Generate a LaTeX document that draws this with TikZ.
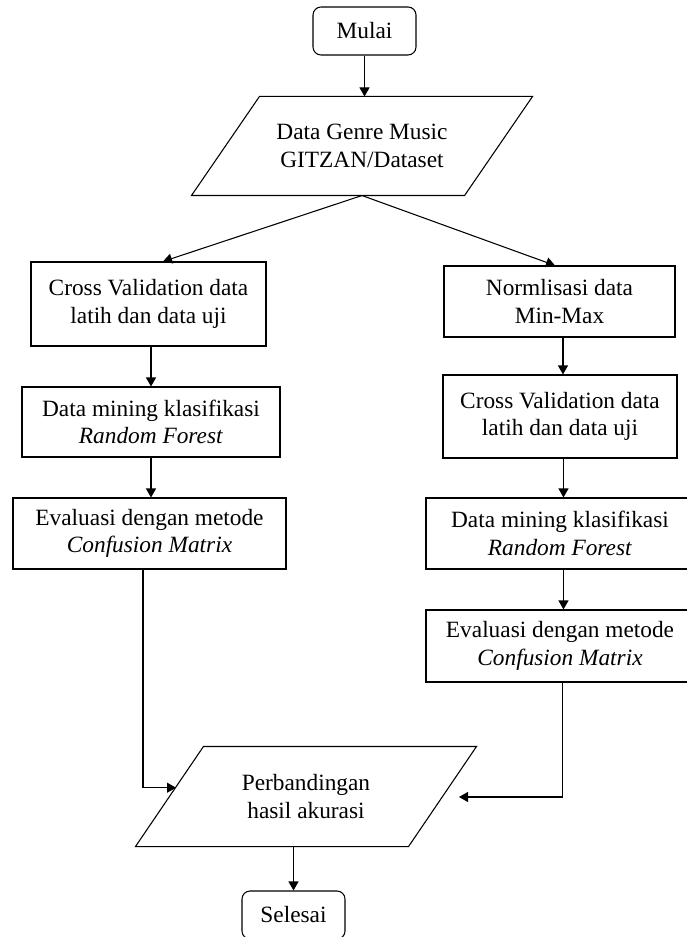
\documentclass[tikz,border=0pt]{standalone}
\usepackage{fontspec}
\setmainfont{Liberation Serif}
\usetikzlibrary{arrows.meta,calc}
\newlength\upx
\setlength\upx{0.75pt}
\begin{document}
\begin{tikzpicture}[x=0.75pt,y=-0.75pt,
  every node/.style={font=\fontsize{17.5}{20.5}\selectfont, align=center, inner sep=0pt, line width=0.8pt},
  box/.style 2 args={draw, rectangle, minimum width=#1\upx, minimum height=#2\upx},
  term/.style 2 args={draw, rectangle, rounded corners=6pt, minimum width=#1\upx, minimum height=#2\upx},
  io/.style 2 args={rectangle, minimum width=#1\upx, minimum height=#2\upx},
  arr/.style={-{Triangle[width=7.5pt,length=6.75pt]}, line width=0.8pt},
  outline/.style={line width=0.8pt}
]
\fill[white] (0,0) rectangle (686,937);
\useasboundingbox (0,0) rectangle (686,937);

\node[term={103}{48}] (mulai) at (364.5,31) {Mulai};
\node[io={272}{98}] (d) at (362,146) {Data Genre Music\\GITZAN/Dataset};
\node[box={235}{84}] (cvL) at (148.5,304) {Cross Validation data\\latih dan data uji};
\node[box={258}{70}] (dmL) at (151,422) {Data mining klasifikasi\\\textit{Random Forest}};
\node[box={273}{71}] (evL) at (149.5,533.5) {Evaluasi dengan metode\\\textit{Confusion Matrix}};
\node[box={231}{71}] (nm) at (559.5,301.5) {Normlisasi data\\Min-Max};
\node[box={234}{83}] (cvR) at (560,416.5) {Cross Validation data\\latih dan data uji};
\node[box={268}{71}] (dmR) at (560,533.5) {Data mining klasifikasi\\\textit{Random Forest}};
\node[box={268}{72}] (evR) at (560,646) {Evaluasi dengan metode\\\textit{Confusion Matrix}};
\node[io={272}{99}] (p) at (306,796.5) {Perbandingan\\hasil akurasi};
\node[term={103}{48}] (sel) at (293.5,915) {Selesai};

\draw[outline] ([xshift=25.5pt]d.north west) -- ([xshift=25.5pt]d.north east) -- ([xshift=-25.5pt]d.south east) -- ([xshift=-25.5pt]d.south west) -- cycle;
\draw[outline] ([xshift=25.5pt]p.north west) -- ([xshift=25.5pt]p.north east) -- ([xshift=-25.5pt]p.south east) -- ([xshift=-25.5pt]p.south west) -- cycle;

\coordinate (pL) at (176,787.7);
\coordinate (pR) at (459,797);

\draw[arr] (mulai.south) -- (mulai.south |- d.north);
\draw[arr] (d.south) -- ([xshift=10.9pt]cvL.north);
\draw[arr] (d.south) -- ([xshift=-3.4pt]nm.north);
\draw[arr] (dmL.north |- cvL.south) -- (dmL.north);
\draw[arr] (dmL.south) -- (dmL.south |- evL.north);
\draw[arr] ([xshift=-4.9pt]evL.south) |- (pL);
\draw[arr] ([xshift=2.6pt]nm.south) -- ([xshift=2.6pt]nm.south |- cvR.north);
\draw[arr] ([xshift=2.6pt]cvR.south) -- ([xshift=2.6pt]cvR.south |- dmR.north);
\draw[arr] ([xshift=2.6pt]dmR.south) -- ([xshift=2.6pt]dmR.south |- evR.north);
\draw[arr] ([xshift=1.9pt]evR.south) |- (pR);
\draw[arr] (sel.north |- p.south) -- (sel.north);
\end{tikzpicture}
\end{document}
